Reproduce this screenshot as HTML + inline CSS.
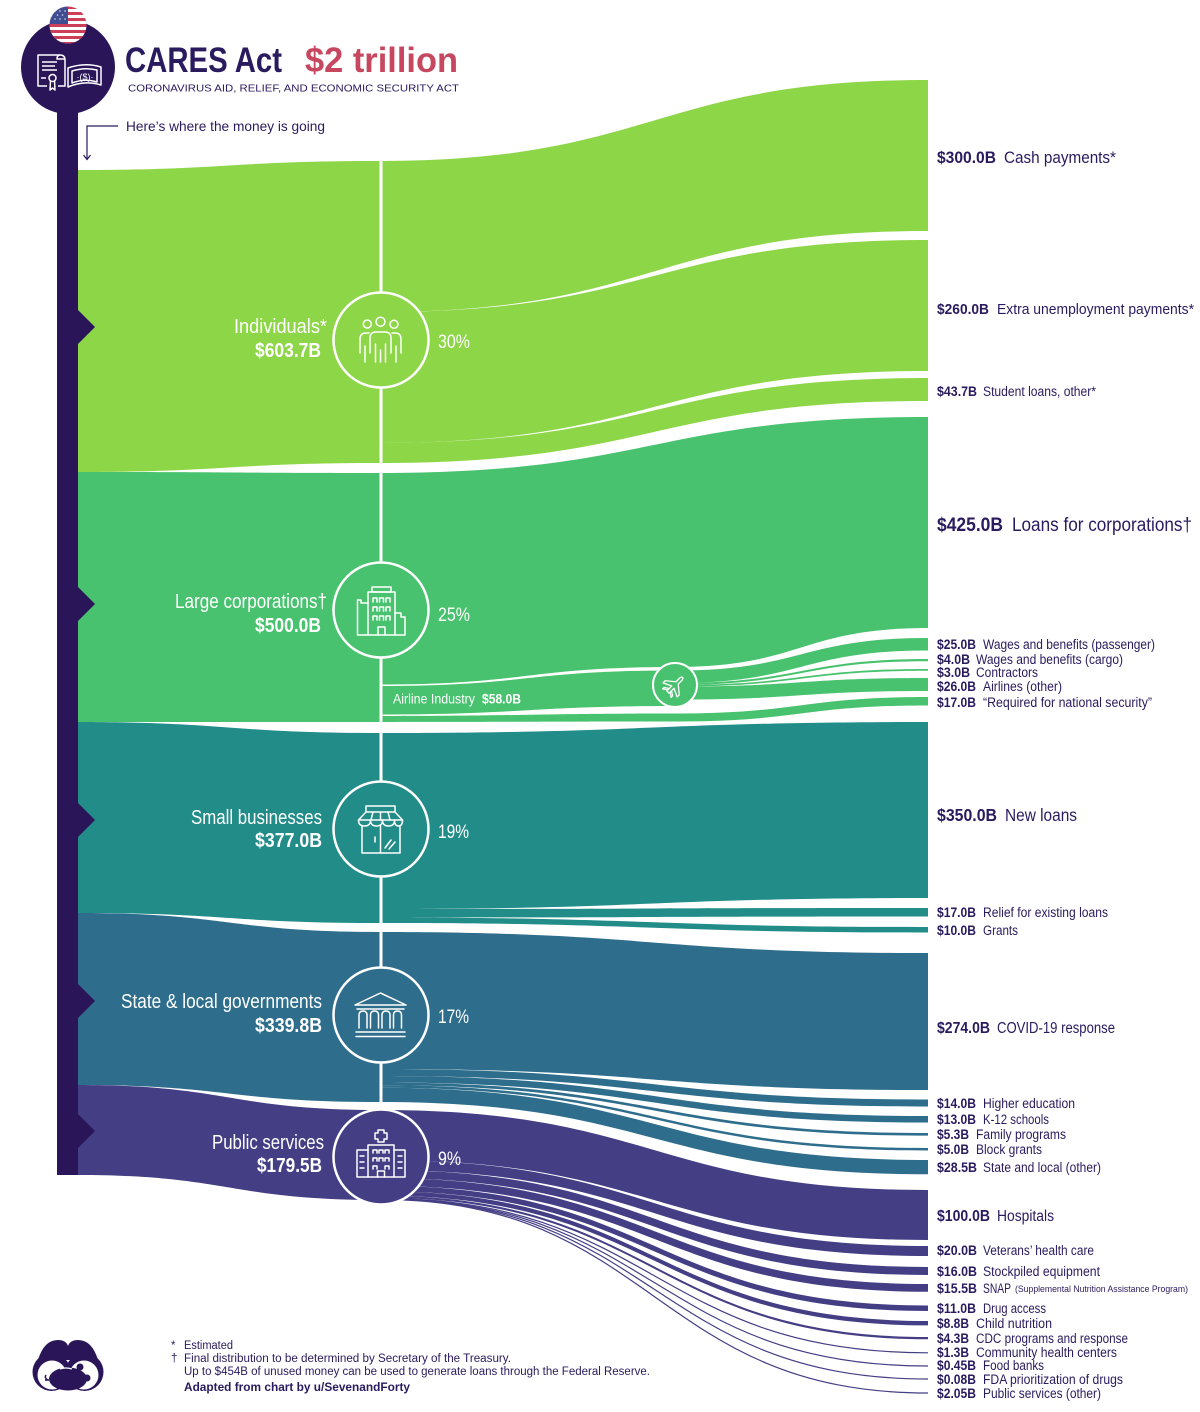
<!DOCTYPE html>
<html><head><meta charset="utf-8"><style>
html,body{margin:0;padding:0;background:#fff;}
svg{display:block;}
.c{font-family:"Liberation Sans Narrow","Liberation Sans",sans-serif;}
</style></head><body>
<svg width="1200" height="1412" viewBox="0 0 1200 1412" xmlns="http://www.w3.org/2000/svg" class="c">
<rect width="1200" height="1412" fill="#fff"/>

<!-- LEFT BANDS -->
<path fill="#8DD647" d="M78,170 C229,170 229,161 380,161 L380,463 C229,463 229,472 78,472 Z"/>
<path fill="#48C26E" d="M78,472 C229,472 229,473 380,473 L380,722 C229,722 229,722 78,722 Z"/>
<path fill="#228C89" d="M78,722 C229,722 229,733 380,733 L380,923 C229,923 229,913 78,913 Z"/>
<path fill="#2E6E8C" d="M78,913 C229,913 229,932 380,932 L380,1102 C229,1102 229,1085 78,1085 Z"/>
<path fill="#443E85" d="M78,1085 C229,1085 229,1110 380,1110 L380,1200 C229,1200 229,1175 78,1175 Z"/>

<!-- INDIVIDUALS FLOWS -->
<g fill="#8DD647">
<path d="M379,161 C654,161 654,80 928,80 L928,231 C654,231 654,312 379,312 Z"/>
<path d="M379,312 C654,312 654,240 928,240 L928,371 C654,371 654,443 379,443 Z"/>
<path d="M379,443 C654,443 654,378 928,378 L928,401 C654,401 654,463 379,463 Z"/>
</g>
<!-- LARGE CORP FLOWS -->
<g fill="#48C26E">
<path d="M379,473 C654,473 654,417 928,417 L928,628 C801,628 801,667 675,667 C527,667 527,684.5 379,684.5 Z"/>
<path d="M379,686 C527,686 527,670.5 676,670.5 L676,706 C527,706 527,714.5 379,714.5 Z"/>
<path d="M379,716 C527,716 527,713.5 675,713.5 C801,713.5 801,697 928,697 L928,705.5 C801,705.5 801,721.5 675,721.5 C527,721.5 527,722 379,722 Z"/>
<path d="M675,670.5 C801.5,670.5 801.5,638 928,638 L928,650.5 C801.5,650.5 801.5,683 675,683 Z"/>
<path d="M675,683 C801.5,683 801.5,659 928,659 L928,661.2 C801.5,661.2 801.5,685 675,685 Z"/>
<path d="M675,685 C801.5,685 801.5,669 928,669 L928,670.8 C801.5,670.8 801.5,686.5 675,686.5 Z"/>
<path d="M675,686.5 C801.5,686.5 801.5,678 928,678 L928,691 C801.5,691 801.5,699.5 675,699.5 Z"/>
</g>
<!-- SMALL BIZ FLOWS -->
<g fill="#228C89">
<path d="M379,733 C654,733 654,722 928,722 L928,898 C654,898 654,909 379,909 Z"/>
<path d="M379,909 C654,909 654,908 928,908 L928,916.5 C654,916.5 654,917.5 379,917.5 Z"/>
<path d="M379,917.5 C654,917.5 654,927 928,927 L928,932.5 C654,932.5 654,923 379,923 Z"/>
</g>
<!-- STATE FLOWS -->
<g fill="#2E6E8C">
<path d="M379,932 C654,932 654,953 928,953 L928,1090 C654,1090 654,1069 379,1069 Z"/>
<path d="M379,1069 C654,1069 654,1099.5 928,1099.5 L928,1106.5 C654,1106.5 654,1076 379,1076 Z"/>
<path d="M379,1076 C654,1076 654,1116 928,1116 L928,1122.5 C654,1122.5 654,1082.5 379,1082.5 Z"/>
<path d="M379,1082.5 C654,1082.5 654,1133 928,1133 L928,1135.6 C654,1135.6 654,1085.2 379,1085.2 Z"/>
<path d="M379,1085.2 C654,1085.2 654,1148 928,1148 L928,1150.5 C654,1150.5 654,1087.7 379,1087.7 Z"/>
<path d="M379,1087.7 C654,1087.7 654,1160 928,1160 L928,1174.3 C654,1174.3 654,1102 379,1102 Z"/>
</g>
<!-- PUBLIC FLOWS -->
<g fill="#443E85">
<path d="M379,1110 C654,1110 654,1190 928,1190 L928,1240 C654,1240 654,1160 379,1160 Z"/>
<path d="M379,1160 C654,1160 654,1246 928,1246 L928,1256 C654,1256 654,1170 379,1170 Z"/>
<path d="M379,1170 C654,1170 654,1267 928,1267 L928,1275 C654,1275 654,1178 379,1178 Z"/>
<path d="M379,1178 C654,1178 654,1284 928,1284 L928,1291.75 C654,1291.75 654,1185.75 379,1185.75 Z"/>
<path d="M379,1185.75 C654,1185.75 654,1305.5 928,1305.5 L928,1311 C654,1311 654,1191.25 379,1191.25 Z"/>
<path d="M379,1191.25 C654,1191.25 654,1321 928,1321 L928,1325.4 C654,1325.4 654,1195.65 379,1195.65 Z"/>
<path d="M379,1195.65 C654,1195.65 654,1337 928,1337 L928,1339.3 C654,1339.3 654,1197.8 379,1197.8 Z"/>
</g>
<g fill="none" stroke="#443E85" stroke-width="1.2">
<path d="M379,1198.2 C654,1198.2 654,1352.8 928,1352.8"/>
<path d="M379,1198.6 C654,1198.6 654,1366 928,1366"/>
<path d="M379,1199 C654,1199 654,1379 928,1379"/>
<path d="M379,1199.4 C654,1199.4 654,1393 928,1393"/>
</g>

<!-- vertical white node line -->
<line x1="381" y1="161" x2="381" y2="1110" stroke="#fff" stroke-width="3"/>

<!-- LEFT BAR -->
<rect x="57" y="95" width="21" height="1080" fill="#2A1559"/>
<g fill="#2A1559">
<polygon points="78,310 95,327 78,344"/>
<polygon points="78,587 95,604 78,621"/>
<polygon points="78,803 95,820 78,837"/>
<polygon points="78,984 95,1001 78,1018"/>
<polygon points="78,1114 95,1131 78,1148"/>
</g>

<!-- HEADER CIRCLE -->
<circle cx="68" cy="67" r="47" fill="#2A1559"/>
<defs><clipPath id="flag"><circle cx="68" cy="25" r="18.5"/></clipPath></defs>
<g clip-path="url(#flag)">
<rect x="49" y="6" width="38" height="40" fill="#fff"/>
<g fill="#CC3F57">
<rect x="49" y="6" width="38" height="3"/>
<rect x="49" y="12" width="38" height="3"/>
<rect x="49" y="18" width="38" height="3"/>
<rect x="49" y="24" width="38" height="3"/>
<rect x="49" y="30" width="38" height="3"/>
<rect x="49" y="36" width="38" height="3"/>
<rect x="49" y="42" width="38" height="3"/>
</g>
<rect x="49" y="6" width="19" height="18" fill="#3F4E92"/>
<g fill="#fff" opacity="0.8">
<circle cx="55" cy="11" r="0.8"/><circle cx="60" cy="11" r="0.8"/><circle cx="65" cy="11" r="0.8"/>
<circle cx="57.5" cy="15" r="0.8"/><circle cx="62.5" cy="15" r="0.8"/>
<circle cx="55" cy="19" r="0.8"/><circle cx="60" cy="19" r="0.8"/><circle cx="65" cy="19" r="0.8"/>
</g>
</g>
<g stroke="#fff" stroke-width="1.5" fill="none" stroke-linejoin="round">
<path d="M47,86 H38 V55 H60 Q65,55 65,60 V86 H58"/>
<path d="M60,55 Q57,55 57,59 H65"/>
<path d="M42,62 H57 M42,66 H55 M42,70 H57 M41,78 H46"/>
<circle cx="52.5" cy="78" r="3.5"/>
<path d="M50.5,81 L50,90 L52.5,88 L55,90 L54.5,81"/>
<path d="M68,68 Q85,62 101,67 V85 Q85,80 68,87 Z"/>
<path d="M72,71 Q85,67 97,70 V82 Q85,78 72,83 Z"/>
</g>
<text x="85" y="80" font-size="9" fill="#fff" text-anchor="middle" font-family="Liberation Sans, sans-serif">·($)·</text>

<!-- TITLE -->
<text x="125" y="72" font-size="35" font-weight="bold" fill="#2A1A5E" textLength="157" lengthAdjust="spacingAndGlyphs">CARES Act</text>
<text x="305" y="72" font-size="35" font-weight="bold" fill="#C6475F" textLength="153" lengthAdjust="spacingAndGlyphs">$2 trillion</text>
<text x="128" y="91.5" font-size="10.5" fill="#2A1A5E" textLength="331" lengthAdjust="spacingAndGlyphs" font-family="Liberation Sans, sans-serif">CORONAVIRUS AID, RELIEF, AND ECONOMIC SECURITY ACT</text>
<text x="126" y="131" font-size="14" fill="#2A1A5E" textLength="199" lengthAdjust="spacingAndGlyphs">Here’s where the money is going</text>
<g stroke="#2A1A5E" stroke-width="1.2" fill="none">
<path d="M118,126 H87 V159"/>
<path d="M83.5,155 L87,159.5 L90.5,155"/>
</g>

<!-- NODE CIRCLES -->
<g stroke="#fff" stroke-width="2.5">
<circle cx="381" cy="340" r="47.5" fill="#8DD647"/>
<circle cx="381" cy="610" r="47.5" fill="#48C26E"/>
<circle cx="381" cy="829" r="47.5" fill="#228C89"/>
<circle cx="381" cy="1015" r="47.5" fill="#2E6E8C"/>
<circle cx="381" cy="1157" r="47.5" fill="#443E85"/>
<circle cx="675" cy="685" r="22" fill="#48C26E" stroke-width="2"/>
</g>

<!-- ICONS -->
<g stroke="#fff" stroke-width="1.5" fill="none" stroke-linejoin="round" stroke-linecap="round">
<!-- people -->
<circle cx="367.3" cy="324" r="4"/>
<circle cx="380.5" cy="321.7" r="4.5"/>
<circle cx="394" cy="324.3" r="4"/>
<path d="M370,353 V338 Q370,332 376,332 H385 Q391,332 391,338 V353"/>
<path d="M375.5,344 V362 M380.5,350 V362 M385.5,344 V362"/>
<path d="M365,362 V346 M360,353 V339 Q360,333 366,333 H369"/>
<path d="M396,362 V346 M401,353 V339 Q401,333 395,333 H392"/>
<!-- building -->
<rect x="368" y="592" width="27" height="43"/>
<rect x="372" y="587" width="19" height="5"/>
<path d="M373,602 V598 H377 V602 M379.5,602 V598 H383.5 V602 M386,602 V598 H390 V602"/>
<path d="M373,611 V607 H377 V611 M379.5,611 V607 H383.5 V611 M386,611 V607 H390 V611"/>
<path d="M373,620 V616 H377 V620 M379.5,620 V616 H383.5 V620 M386,620 V616 H390 V620"/>
<path d="M378,635 V627 H385 V635"/>
<path d="M368,603 H361 V600 H357.5 V635 H368"/>
<path d="M395,613 H401 V617 H405 V635 H395"/>
<!-- store -->
<rect x="366" y="806" width="29" height="6"/>
<path d="M366,812 L358.5,820 M395,812 L402.5,820 M373,812 L371,820 M380.5,812 L380.5,820 M388,812 L390,820"/>
<path d="M358.5,820 Q358.5,826 364.5,826 Q370.5,826 370.5,820 Q370.5,826 376.5,826 Q382.5,826 382.5,820 Q382.5,826 388.5,826 Q394.5,826 394.5,820 Q394.5,826 398.5,826 Q402.5,826 402.5,820 Z"/>
<path d="M362,826 V853 H400 V826 M380.5,826 V853"/>
<path d="M375,837 V842 M385,848 L391,840 M389,849 L395,842"/>
<!-- temple -->
<path d="M355,1005 L380.5,993 L406,1005 Z"/>
<path d="M357,1009 H404"/>
<path d="M359,1028 V1015 Q359,1011 363,1011 Q367,1011 367,1015 V1028"/>
<path d="M370.5,1028 V1015 Q370.5,1011 374.5,1011 Q378.5,1011 378.5,1015 V1028"/>
<path d="M382,1028 V1015 Q382,1011 386,1011 Q390,1011 390,1015 V1028"/>
<path d="M393.5,1028 V1015 Q393.5,1011 397.5,1011 Q401.5,1011 401.5,1015 V1028"/>
<path d="M356,1032 H405 M356,1036.5 H405"/>
<!-- hospital -->
<path d="M378,1130 H384 V1133 H387 V1139 H384 V1142 H378 V1139 H375 V1133 H378 Z"/>
<path d="M368,1177 V1145 H394 V1177"/>
<path d="M368,1150 H357 V1177 H405 V1150 H394"/>
<path d="M373,1153 V1150 H377 V1153 M379,1153 V1150 H383 V1153 M385,1153 V1150 H389 V1153"/>
<path d="M373,1161 V1158 H377 V1161 M379,1161 V1158 H383 V1161 M385,1161 V1158 H389 V1161"/>
<path d="M373,1169 V1166 H377 V1169 M385,1169 V1166 H389 V1169"/>
<path d="M377.5,1177 V1171 H384.5 V1177"/>
<path d="M360,1156 H364 M360,1162 H364 M360,1168 H364 M398,1156 H402 M398,1162 H402 M398,1168 H402"/>
<!-- plane -->
<g transform="translate(675,685) rotate(-45)" stroke-width="1.3">
<path d="M-10,-1.6 L-3,-1.6 L-7,-10 L-4,-10 L3,-1.6 L9,-1.6 Q12.5,0 9,1.6 L3,1.6 L-4,10 L-7,10 L-3,1.6 L-10,1.6 Z"/>
<path d="M-8.5,-1.6 L-11.5,-6 L-9.5,-6 L-6.5,-1.6 M-8.5,1.6 L-11.5,6 L-9.5,6 L-6.5,1.6"/>
</g>
</g>

<!-- LEFT LABELS (white) -->
<g fill="#fff">
<text x="234" y="333" font-size="20" textLength="93" lengthAdjust="spacingAndGlyphs">Individuals*</text>
<text x="255" y="357" font-size="20" font-weight="bold" textLength="66" lengthAdjust="spacingAndGlyphs">$603.7B</text>
<text x="175" y="608" font-size="20" textLength="152" lengthAdjust="spacingAndGlyphs">Large corporations†</text>
<text x="255" y="632" font-size="20" font-weight="bold" textLength="66" lengthAdjust="spacingAndGlyphs">$500.0B</text>
<text x="191" y="824" font-size="20" textLength="131" lengthAdjust="spacingAndGlyphs">Small businesses</text>
<text x="255" y="847" font-size="20" font-weight="bold" textLength="67" lengthAdjust="spacingAndGlyphs">$377.0B</text>
<text x="121" y="1008" font-size="20" textLength="201" lengthAdjust="spacingAndGlyphs">State &amp; local governments</text>
<text x="255" y="1032" font-size="20" font-weight="bold" textLength="67" lengthAdjust="spacingAndGlyphs">$339.8B</text>
<text x="212" y="1149" font-size="20" textLength="112" lengthAdjust="spacingAndGlyphs">Public services</text>
<text x="257" y="1172" font-size="20" font-weight="bold" textLength="65" lengthAdjust="spacingAndGlyphs">$179.5B</text>
<text x="438" y="348" font-size="19" textLength="32" lengthAdjust="spacingAndGlyphs">30%</text>
<text x="438" y="621" font-size="19" textLength="32" lengthAdjust="spacingAndGlyphs">25%</text>
<text x="438" y="838" font-size="19" textLength="31" lengthAdjust="spacingAndGlyphs">19%</text>
<text x="438" y="1023" font-size="19" textLength="31" lengthAdjust="spacingAndGlyphs">17%</text>
<text x="438" y="1165" font-size="19" textLength="23" lengthAdjust="spacingAndGlyphs">9%</text>
<text x="393" y="703.5" font-size="13.5" textLength="82" lengthAdjust="spacingAndGlyphs">Airline Industry</text>
<text x="482" y="703.5" font-size="13.5" font-weight="bold" textLength="39" lengthAdjust="spacingAndGlyphs">$58.0B</text>
</g>

<!-- RIGHT LABELS -->
<g fill="#2A1A5E">
<text x="937" y="163" font-size="16.5" font-weight="bold" textLength="59" lengthAdjust="spacingAndGlyphs">$300.0B</text>
<text x="1004" y="163" font-size="16.5" textLength="112" lengthAdjust="spacingAndGlyphs">Cash payments*</text>
<text x="937" y="314" font-size="14.5" font-weight="bold" textLength="52" lengthAdjust="spacingAndGlyphs">$260.0B</text>
<text x="997" y="314" font-size="14.5" textLength="197" lengthAdjust="spacingAndGlyphs">Extra unemployment payments*</text>
<text x="937" y="396" font-size="13.5" font-weight="bold" textLength="40" lengthAdjust="spacingAndGlyphs">$43.7B</text>
<text x="983" y="396" font-size="13.5" textLength="113" lengthAdjust="spacingAndGlyphs">Student loans, other*</text>
<text x="937" y="531" font-size="19" font-weight="bold" textLength="66" lengthAdjust="spacingAndGlyphs">$425.0B</text>
<text x="1012" y="531" font-size="19" textLength="180" lengthAdjust="spacingAndGlyphs">Loans for corporations†</text>

<text x="937" y="649" font-size="13.5" font-weight="bold" textLength="39" lengthAdjust="spacingAndGlyphs">$25.0B</text>
<text x="983" y="649" font-size="13.5" textLength="172" lengthAdjust="spacingAndGlyphs">Wages and benefits (passenger)</text>
<text x="937" y="664" font-size="13.5" font-weight="bold" textLength="33" lengthAdjust="spacingAndGlyphs">$4.0B</text>
<text x="976" y="664" font-size="13.5" textLength="147" lengthAdjust="spacingAndGlyphs">Wages and benefits (cargo)</text>
<text x="937" y="677" font-size="13.5" font-weight="bold" textLength="33" lengthAdjust="spacingAndGlyphs">$3.0B</text>
<text x="976" y="677" font-size="13.5" textLength="62" lengthAdjust="spacingAndGlyphs">Contractors</text>
<text x="937" y="691" font-size="13.5" font-weight="bold" textLength="39" lengthAdjust="spacingAndGlyphs">$26.0B</text>
<text x="983" y="691" font-size="13.5" textLength="79" lengthAdjust="spacingAndGlyphs">Airlines (other)</text>
<text x="937" y="707" font-size="13.5" font-weight="bold" textLength="39" lengthAdjust="spacingAndGlyphs">$17.0B</text>
<text x="983" y="707" font-size="13.5" textLength="169" lengthAdjust="spacingAndGlyphs">“Required for national security”</text>

<text x="937" y="821" font-size="17.5" font-weight="bold" textLength="60" lengthAdjust="spacingAndGlyphs">$350.0B</text>
<text x="1005" y="821" font-size="17.5" textLength="72" lengthAdjust="spacingAndGlyphs">New loans</text>
<text x="937" y="917" font-size="13.5" font-weight="bold" textLength="39" lengthAdjust="spacingAndGlyphs">$17.0B</text>
<text x="983" y="917" font-size="13.5" textLength="125" lengthAdjust="spacingAndGlyphs">Relief for existing loans</text>
<text x="937" y="935" font-size="13.5" font-weight="bold" textLength="39" lengthAdjust="spacingAndGlyphs">$10.0B</text>
<text x="983" y="935" font-size="13.5" textLength="35" lengthAdjust="spacingAndGlyphs">Grants</text>

<text x="937" y="1033" font-size="15.5" font-weight="bold" textLength="53" lengthAdjust="spacingAndGlyphs">$274.0B</text>
<text x="997" y="1033" font-size="15.5" textLength="118" lengthAdjust="spacingAndGlyphs">COVID-19 response</text>
<text x="937" y="1108" font-size="13.5" font-weight="bold" textLength="39" lengthAdjust="spacingAndGlyphs">$14.0B</text>
<text x="983" y="1108" font-size="13.5" textLength="92" lengthAdjust="spacingAndGlyphs">Higher education</text>
<text x="937" y="1124" font-size="13.5" font-weight="bold" textLength="39" lengthAdjust="spacingAndGlyphs">$13.0B</text>
<text x="983" y="1124" font-size="13.5" textLength="66" lengthAdjust="spacingAndGlyphs">K-12 schools</text>
<text x="937" y="1139" font-size="13.5" font-weight="bold" textLength="32" lengthAdjust="spacingAndGlyphs">$5.3B</text>
<text x="976" y="1139" font-size="13.5" textLength="90" lengthAdjust="spacingAndGlyphs">Family programs</text>
<text x="937" y="1154" font-size="13.5" font-weight="bold" textLength="32" lengthAdjust="spacingAndGlyphs">$5.0B</text>
<text x="976" y="1154" font-size="13.5" textLength="66" lengthAdjust="spacingAndGlyphs">Block grants</text>
<text x="937" y="1172" font-size="13.5" font-weight="bold" textLength="40" lengthAdjust="spacingAndGlyphs">$28.5B</text>
<text x="983" y="1172" font-size="13.5" textLength="118" lengthAdjust="spacingAndGlyphs">State and local (other)</text>

<text x="937" y="1221" font-size="15.5" font-weight="bold" textLength="53" lengthAdjust="spacingAndGlyphs">$100.0B</text>
<text x="997" y="1221" font-size="15.5" textLength="57" lengthAdjust="spacingAndGlyphs">Hospitals</text>
<text x="937" y="1255" font-size="13.5" font-weight="bold" textLength="40" lengthAdjust="spacingAndGlyphs">$20.0B</text>
<text x="983" y="1255" font-size="13.5" textLength="111" lengthAdjust="spacingAndGlyphs">Veterans’ health care</text>
<text x="937" y="1276" font-size="13.5" font-weight="bold" textLength="40" lengthAdjust="spacingAndGlyphs">$16.0B</text>
<text x="983" y="1276" font-size="13.5" textLength="117" lengthAdjust="spacingAndGlyphs">Stockpiled equipment</text>
<text x="937" y="1293" font-size="13.5" font-weight="bold" textLength="40" lengthAdjust="spacingAndGlyphs">$15.5B</text>
<text x="983" y="1293" font-size="13.5" textLength="28" lengthAdjust="spacingAndGlyphs">SNAP</text>
<text x="1015" y="1292" font-size="9.5" textLength="173" lengthAdjust="spacingAndGlyphs">(Supplemental Nutrition Assistance Program)</text>
<text x="937" y="1313" font-size="13.5" font-weight="bold" textLength="39" lengthAdjust="spacingAndGlyphs">$11.0B</text>
<text x="983" y="1313" font-size="13.5" textLength="63" lengthAdjust="spacingAndGlyphs">Drug access</text>
<text x="937" y="1328" font-size="13.5" font-weight="bold" textLength="32" lengthAdjust="spacingAndGlyphs">$8.8B</text>
<text x="976" y="1328" font-size="13.5" textLength="76" lengthAdjust="spacingAndGlyphs">Child nutrition</text>
<text x="937" y="1343" font-size="13.5" font-weight="bold" textLength="32" lengthAdjust="spacingAndGlyphs">$4.3B</text>
<text x="976" y="1343" font-size="13.5" textLength="152" lengthAdjust="spacingAndGlyphs">CDC programs and response</text>
<text x="937" y="1357" font-size="13.5" font-weight="bold" textLength="32" lengthAdjust="spacingAndGlyphs">$1.3B</text>
<text x="976" y="1357" font-size="13.5" textLength="141" lengthAdjust="spacingAndGlyphs">Community health centers</text>
<text x="937" y="1370" font-size="13.5" font-weight="bold" textLength="39" lengthAdjust="spacingAndGlyphs">$0.45B</text>
<text x="983" y="1370" font-size="13.5" textLength="61" lengthAdjust="spacingAndGlyphs">Food banks</text>
<text x="937" y="1384" font-size="13.5" font-weight="bold" textLength="39" lengthAdjust="spacingAndGlyphs">$0.08B</text>
<text x="983" y="1384" font-size="13.5" textLength="140" lengthAdjust="spacingAndGlyphs">FDA prioritization of drugs</text>
<text x="937" y="1398" font-size="13.5" font-weight="bold" textLength="39" lengthAdjust="spacingAndGlyphs">$2.05B</text>
<text x="983" y="1398" font-size="13.5" textLength="118" lengthAdjust="spacingAndGlyphs">Public services (other)</text>
</g>

<!-- FOOTNOTES -->
<g fill="#2A1A5E" font-size="11.5">
<text x="171" y="1349">*</text>
<text x="184" y="1349" textLength="49" lengthAdjust="spacingAndGlyphs">Estimated</text>
<text x="171" y="1362">†</text>
<text x="184" y="1362" textLength="327" lengthAdjust="spacingAndGlyphs">Final distribution to be determined by Secretary of the Treasury.</text>
<text x="184" y="1375" textLength="466" lengthAdjust="spacingAndGlyphs">Up to $454B of unused money can be used to generate loans through the Federal Reserve.</text>
<text x="184" y="1391" font-weight="bold" textLength="226" lengthAdjust="spacingAndGlyphs">Adapted from chart by u/SevenandForty</text>
</g>

<!-- LOGO -->
<g fill="#2A1559">
<path d="M38,1360 Q44,1340 58,1340 Q66,1340 68,1346 Q70,1340 78,1340 Q92,1340 98,1360 Z"/>
<circle cx="51.5" cy="1372" r="19"/>
<circle cx="84.5" cy="1372" r="19"/>
</g>
<g fill="#fff">
<circle cx="52" cy="1375" r="14.5"/>
<circle cx="84" cy="1375" r="14.5"/>
</g>
<g fill="#2A1559">
<ellipse cx="68" cy="1379" rx="19" ry="11.5"/>
<circle cx="80" cy="1367" r="3.5"/>
<ellipse cx="87" cy="1378" rx="3.5" ry="3.5"/>
<path d="M48,1380 q-4,-2 -2,-5 M45,1380 h4" stroke="#2A1559" stroke-width="1.5" fill="none"/>
</g>
<circle cx="70" cy="1370" r="0" fill="#fff"/>
<path d="M60,1369 q6,-2 12,0" stroke="#fff" stroke-width="1.2" fill="none"/>
</svg>
</body></html>
